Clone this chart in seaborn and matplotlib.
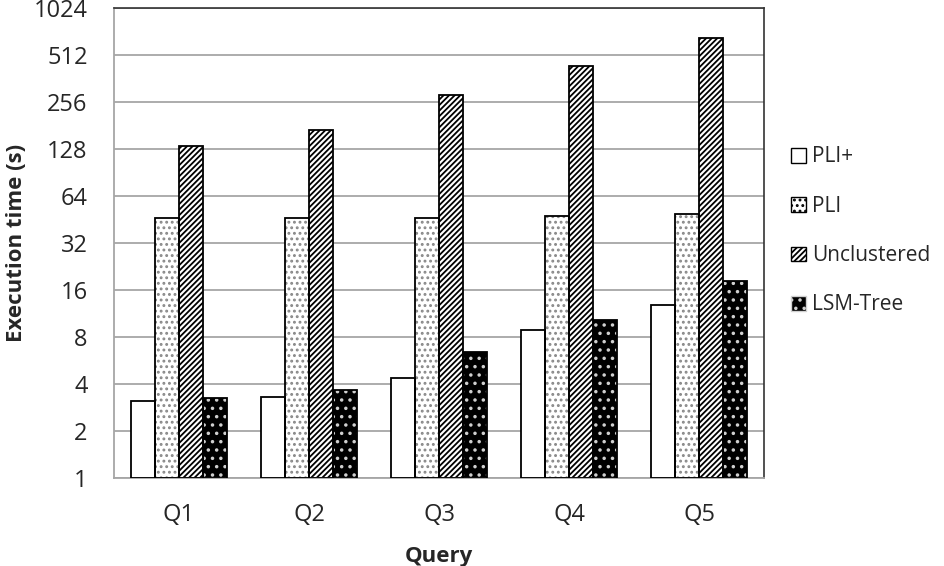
import pandas as pd
import matplotlib
matplotlib.use("Agg")
import matplotlib.pyplot as plt
from matplotlib.patches import Patch, Rectangle
from matplotlib.ticker import FixedLocator, NullFormatter
import seaborn as sns

# -------------------------------
# DATA
# -------------------------------
queries = ["Q1", "Q2", "Q3", "Q4", "Q5"]
methods = ["PLI+", "PLI", "Unclustered", "LSM-Tree"]
pli_plus = [3.1, 3.3, 4.4, 8.9, 12.8]
pli = [46, 46, 46, 47.5, 49]
unclustered = [134, 169, 284, 436, 657]
lsm_tree = [3.25, 3.65, 6.4, 10.3, 18.3]
y_ticks = [1, 2, 4, 8, 16, 32, 64, 128, 256, 512, 1024]

df = pd.DataFrame({
    "Query": queries * 4,
    "Method": [m for m in methods for _ in queries],
    "Time": pli_plus + pli + unclustered + lsm_tree,
})

# -------------------------------
# STYLE
# -------------------------------
sns.set_style("white")
plt.rcParams["font.family"] = ["Open Sans", "DejaVu Sans"]
plt.rcParams["hatch.linewidth"] = 1.3

face = {"PLI+": "white", "PLI": "white", "Unclustered": "white", "LSM-Tree": "black"}
hatch = {"PLI+": "", "PLI": "...", "Unclustered": "//////", "LSM-Tree": ".."}
hcol = {"PLI+": "black", "PLI": "#888888", "Unclustered": "black", "LSM-Tree": "#d0d0d0"}

fig = plt.figure(figsize=(9.44, 5.66), dpi=100)
ax = fig.add_axes([114 / 944, 1 - 478 / 566, 650 / 944, 470 / 566])

sns.barplot(data=df, x="Query", y="Time", hue="Method", hue_order=methods,
            palette=[face[m] for m in methods], width=0.74, gap=0,
            edgecolor="black", linewidth=0, legend=False, ax=ax)

ax.set_yscale("log", base=2)
ax.set_ylim(1, 1024)
ax.set_xlim(-0.5, 4.5)

# hatches + black outline for each bar
for i, m in enumerate(methods):
    for p in ax.containers[i]:
        p.set_hatch(hatch[m])
        p.set_edgecolor(hcol[m])
        p.set_linewidth(0)
        y0 = max(p.get_y(), 1)
        ax.add_patch(Rectangle((p.get_x(), y0), p.get_width(), p.get_y() + p.get_height() - y0,
                               fill=False, edgecolor="black", linewidth=1.3, zorder=3))

# -------------------------------
# AXES
# -------------------------------
ax.yaxis.set_major_locator(FixedLocator(y_ticks))
ax.set_yticklabels([str(t) for t in y_ticks])
ax.yaxis.set_minor_locator(FixedLocator([]))
ax.grid(axis="y", color="#a6a6a6", linewidth=1.3)
ax.set_axisbelow(True)

ax.xaxis.set_minor_locator(FixedLocator([-0.5, 0.5, 1.5, 2.5, 3.5, 4.5]))
ax.xaxis.set_minor_formatter(NullFormatter())
ax.tick_params(axis="x", which="major", length=0, pad=18, labelsize=17, labelcolor="#262626")
ax.tick_params(axis="x", which="minor", length=7, width=1.2, color="#a6a6a6", direction="out")
ax.tick_params(axis="y", which="major", length=7, width=1.2, color="#a6a6a6",
               direction="out", labelsize=17, labelcolor="#262626", pad=12)

for s in ["left", "bottom"]:
    ax.spines[s].set_color("#a6a6a6")
    ax.spines[s].set_linewidth(1.3)
for s in ["top", "right"]:
    ax.spines[s].set_color("#333333")
    ax.spines[s].set_linewidth(1.2)

ax.set_xlabel("Query", fontsize=16, fontweight="bold", labelpad=14)
ax.set_ylabel("Execution time (s)", fontsize=16, fontweight="bold", labelpad=5)

# -------------------------------
# LEGEND
# -------------------------------
handles = [Patch(facecolor=face[m], hatch=hatch[m],
                 edgecolor="black" if m != "LSM-Tree" else "#d0d0d0", linewidth=1)
           for m in methods]
fig.legend(handles, methods, loc="center left", bbox_to_anchor=(783 / 944, 1 - 231 / 566),
           frameon=False, fontsize=15, handlelength=0.7, handleheight=0.7,
           handletextpad=0.3, labelspacing=1.36, borderaxespad=0)

fig.savefig("out.png", dpi=100)
